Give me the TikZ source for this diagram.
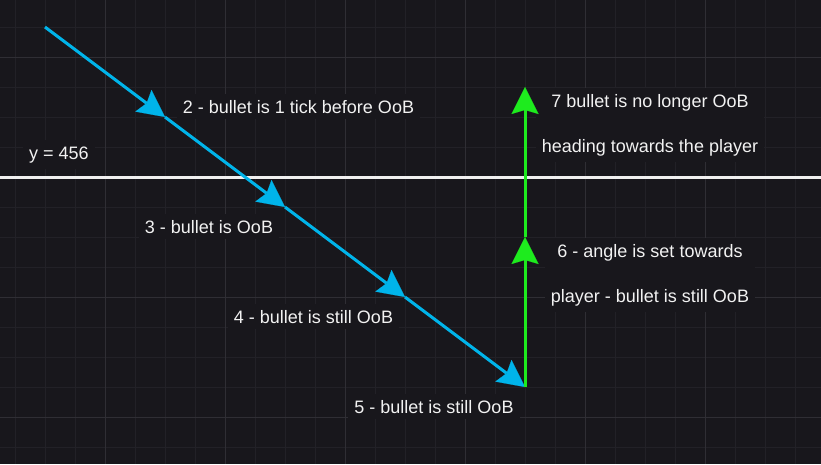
\documentclass[tikz,border=0pt]{standalone}
\usepackage{fontspec}
\setmainfont{Liberation Sans}
\usetikzlibrary{arrows.meta}
\definecolor{bg}{HTML}{18171C}
\definecolor{gridminor}{HTML}{222127}
\definecolor{gridmajor}{HTML}{2F2E34}
\definecolor{bulletblue}{HTML}{00B4EA}
\definecolor{turngreen}{HTML}{1EEB1E}
\definecolor{txt}{HTML}{F2F2F2}
\definecolor{limitline}{HTML}{F0F0F0}
\tikzset{
  lbl/.style={text=txt, fill=bg, font=\fontsize{18}{45}\selectfont, align=center, inner xsep=6pt, inner ysep=6pt},
  bigtip/.style={-{Stealth[length=27pt,width=27pt,inset=4pt,line width=0.1pt]}},
  bluepath/.style={draw=bulletblue, line width=3pt, bigtip},
  greenpath/.style={draw=turngreen, line width=3pt, bigtip},
  limitpath/.style={draw=limitline, line width=3pt},
  minorgrid/.style={draw=gridminor, line width=1pt},
  majorgrid/.style={draw=gridmajor, line width=1pt}
}
\begin{document}
\begin{tikzpicture}[x=1pt,y=-1pt]
\fill[bg] (0,0) rectangle (821,464);
\useasboundingbox (0,0) rectangle (821,464);
% grid
\foreach \x in {15,45,...,825} \draw[minorgrid] (\x,0) -- (\x,464);
\foreach \y in {-3,27,...,470} \draw[minorgrid] (0,\y) -- (821,\y);
\foreach \x in {105,225,...,825} \draw[majorgrid] (\x,0) -- (\x,464);
\foreach \y in {57,177,...,470} \draw[majorgrid] (0,\y) -- (821,\y);

% boundary line y = 456
\coordinate (limL) at (0,177);
\coordinate (limR) at (821,177);
\draw[limitpath] (limL) -- (limR);

% labels
\node[lbl, anchor=base] (ly) at (59,159) {y = 456};
\node[lbl, anchor=base] (l2) at (298.5,113) {2 - bullet is 1 tick before OoB};
\node[lbl, anchor=base] (l3) at (209,233) {3 - bullet is OoB};
\node[lbl, anchor=base] (l4) at (313.5,323) {4 - bullet is still OoB};
\node[lbl, anchor=base] (l5) at (434,413) {5 - bullet is still OoB};
\node[lbl, anchor=north] (l7) at (650,88) {7 bullet is no longer OoB\\heading towards the player};
\node[lbl, anchor=north] (l6) at (650,238) {6 - angle is set towards\\player - bullet is still OoB};

% bullet path
\coordinate (b1) at (45,27);
\coordinate (b2) at (165,117);
\coordinate (b3) at (285,207);
\coordinate (b4) at (405,297);
\coordinate (b5) at (525,387);
\coordinate (g6) at (525,237);
\coordinate (g7) at (525,87);
\draw[bluepath] (b1) -- (b2);
\draw[bluepath] (b2) -- (b3);
\draw[bluepath] (b3) -- (b4);
\draw[bluepath] (b4) -- (b5);
\draw[greenpath] (b5) -- (g6);
\draw[greenpath] (g6) -- (g7);
\end{tikzpicture}
\end{document}
